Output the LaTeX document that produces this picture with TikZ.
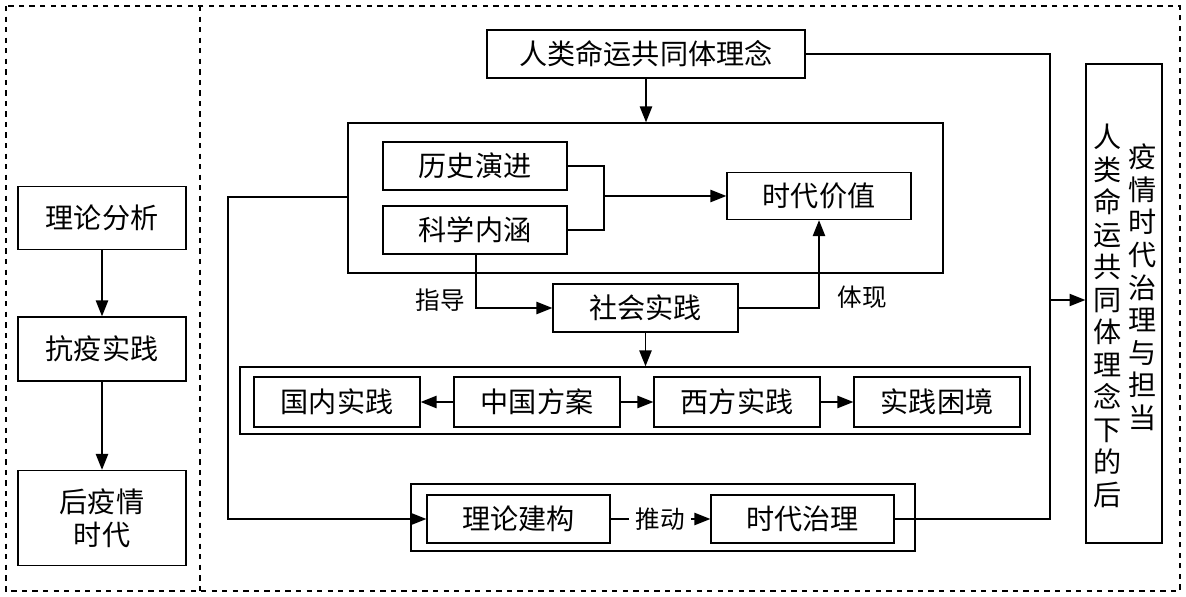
\documentclass[tikz,border=0pt]{standalone}
\usepackage{fontspec}
\setmainfont{Noto Sans CJK SC}
\usetikzlibrary{arrows.meta}

\begin{document}
\begin{tikzpicture}[x=0.02cm,y=-0.02cm,%%
  boxStyle/.style={draw,thick,inner sep=0pt,font=\fontsize{16}{19}\selectfont},%%
  frameStyle/.style={draw,thick,dashed},%%
  lineStyle/.style={thick,-{Triangle[length=9pt,width=7pt]}},%%
  labelStyle/.style={font=\fontsize{14}{16}\selectfont}%%
]
\useasboundingbox (0,0) rectangle (1186,597);
%% The dashed frame.
\draw[frameStyle] (6,6) rectangle (1180,591);
\draw[frameStyle] (200,6) -- (200,591);
%% Left column.
\node[boxStyle,minimum width=168*0.02cm,minimum height=63*0.02cm] (analysis) at (102,218) {理论分析};
\node[boxStyle,minimum width=168*0.02cm,minimum height=64*0.02cm] (practice) at (102,349) {抗疫实践};
\node[boxStyle,minimum width=168*0.02cm,minimum height=95*0.02cm,align=center] (post) at (102,518) {后疫情\\时代};
\draw[lineStyle] (analysis) -- (practice);
\draw[lineStyle] (practice) -- (post);
%% Outer frames.
\node[draw,thick,minimum width=595*0.02cm,minimum height=150*0.02cm] (theory) at (645.5,198) {};
\node[draw,thick,minimum width=790*0.02cm,minimum height=67*0.02cm] (row) at (635,400.5) {};
\node[draw,thick,minimum width=504*0.02cm,minimum height=67*0.02cm] (governFrame) at (663,517.5) {};
%% Boxes.
\node[boxStyle,minimum width=318*0.02cm,minimum height=48*0.02cm] (idea) at (646,54) {人类命运共同体理念};
\node[boxStyle,minimum width=184*0.02cm,minimum height=48*0.02cm] (history) at (475,166) {历史演进};
\node[boxStyle,minimum width=184*0.02cm,minimum height=48*0.02cm] (science) at (475,230) {科学内涵};
\node[boxStyle,minimum width=184*0.02cm,minimum height=47*0.02cm] (value) at (819,196) {时代价值};
\node[boxStyle,minimum width=185*0.02cm,minimum height=48*0.02cm] (social) at (645.5,308) {社会实践};
\node[boxStyle,minimum width=166*0.02cm,minimum height=50*0.02cm] (domestic) at (337,402) {国内实践};
\node[boxStyle,minimum width=166*0.02cm,minimum height=50*0.02cm] (china) at (537,402) {中国方案};
\node[boxStyle,minimum width=166*0.02cm,minimum height=50*0.02cm] (west) at (737,402) {西方实践};
\node[boxStyle,minimum width=166*0.02cm,minimum height=50*0.02cm] (dilemma) at (937,402) {实践困境};
\node[boxStyle,minimum width=183*0.02cm,minimum height=48*0.02cm] (construct) at (518.5,519) {理论建构};
\node[boxStyle,minimum width=183*0.02cm,minimum height=48*0.02cm] (govern) at (802.5,519) {时代治理};
\node[boxStyle,minimum width=76*0.02cm,minimum height=479*0.02cm] (result) at (1124,303.5) {};
\node[font=\fontsize{16}{18.5}\selectfont,align=center,anchor=north] (resultA) at (1108,118) {人\\类\\命\\运\\共\\同\\体\\理\\念\\下\\的\\后};
\node[font=\fontsize{16}{18.5}\selectfont,align=center,anchor=north] (resultB) at (1143,138) {疫\\情\\时\\代\\治\\理\\与\\担\\当};
%% Labels.
\node[labelStyle] (guide) at (440,300) {指导};
\node[labelStyle] (embody) at (862,297) {体现};
\node[labelStyle] (drive) at (660,519) {推动};
%% Connectors.
\draw[lineStyle] (idea) -- (theory.north -| idea);
\coordinate (join) at (604,196);
\draw[thick] (history.east) -| (join) |- (science.east);
\draw[lineStyle] (join) -- (value.west);
\draw[lineStyle] (science.south -| 476,0) |- (social.west);
\draw[lineStyle] (social.east) -| (value.south);
\draw[lineStyle] (social) -- (row.north -| social);
\draw[lineStyle] (china) -- (domestic);
\draw[lineStyle] (china) -- (west);
\draw[lineStyle] (west) -- (dilemma);
\draw[lineStyle] (drive.east) -- (govern.west);
\draw[thick] (construct.east) -- (drive.west);
\draw[lineStyle] (theory.west |- 0,197) -- (228,197) |- (construct.west);
\draw[thick] (idea.east) -- (1050,54) |- (govern.east);
\draw[lineStyle] (1050,300) -- (result.west |- 0,300);
\end{tikzpicture}
\end{document}
